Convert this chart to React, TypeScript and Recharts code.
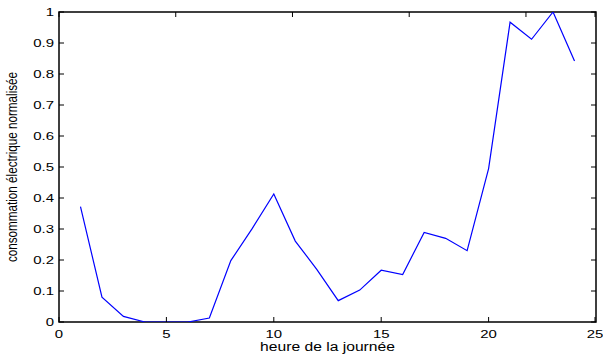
import React from 'react';
import { LineChart, Line, XAxis, YAxis, ReferenceArea } from 'recharts';

// hour of day and normalised consumption
const hours = [1, 2, 3, 4, 5, 6, 7, 8, 9, 10, 11, 12, 13, 14, 15, 16, 17, 18, 19, 20, 21, 22, 23, 24];
const consumption = [
  0.372, 0.08, 0.018, 0, 0, 0, 0.013, 0.198, 0.302, 0.413, 0.261, 0.17,
  0.069, 0.103, 0.167, 0.153, 0.289, 0.27, 0.23, 0.495, 0.967, 0.912, 1.0, 0.842,
];
const xTicks = [0, 5, 10, 15, 20, 25];
const yTicks = [0, 0.1, 0.2, 0.3, 0.4, 0.5, 0.6, 0.7, 0.8, 0.9, 1];

const data = hours.map((h, i) => ({ hour: h, value: consumption[i] }));

const FONT = '"Liberation Sans", Arial, Helvetica, sans-serif';
const TICK = 5; // inward tick length, matlab style

// the original figure is stretched horizontally, so the text is too
const BottomTick: React.FC<any> = ({ x, y, payload }) => (
  <g transform={`translate(${x},${y})`}>
    <line x1={0} y1={0} x2={0} y2={-TICK} stroke="#000" strokeWidth={1} />
    <text transform="translate(0,15.5) scale(1.3,1)" textAnchor="middle" fontSize={11.5} fontFamily={FONT} fill="#000">
      {payload.value}
    </text>
  </g>
);

const LeftTick: React.FC<any> = ({ x, y, payload }) => (
  <g transform={`translate(${x},${y})`}>
    <line x1={0} y1={0} x2={TICK} y2={0} stroke="#000" strokeWidth={1} />
    <text transform="translate(-5,0) scale(1.3,1)" textAnchor="end" dy="0.36em" fontSize={11.5} fontFamily={FONT} fill="#000">
      {payload.value}
    </text>
  </g>
);

const TopTick: React.FC<any> = ({ x, y }) => (
  <line x1={x} y1={y} x2={x} y2={y + TICK} stroke="#000" strokeWidth={1} />
);

const RightTick: React.FC<any> = ({ x, y }) => (
  <line x1={x} y1={y} x2={x - TICK} y2={y} stroke="#000" strokeWidth={1} />
);

const XLabel = (props: any) => {
  const vb = props.viewBox || { x: 59, y: 322, width: 537, height: 37 };
  const cx = vb.x + vb.width / 2;
  return (
    <g transform={`translate(${cx},${vb.y + 29})`}>
      <text transform="scale(1.16,1)" textAnchor="middle" fontSize={13.5} fontFamily={FONT} fill="#000">
        heure de la journée
      </text>
    </g>
  );
};

const YLabel = (props: any) => {
  const vb = props.viewBox || { x: 0, y: 12, width: 59, height: 310 };
  const cy = vb.y + vb.height / 2;
  return (
    <text
      transform={`translate(16.5,${cy}) rotate(-90) scale(1,1.3)`}
      textAnchor="middle"
      fontSize={11.7}
      fontFamily={FONT}
      fill="#000"
    >
      consommation électrique normalisée
    </text>
  );
};

export default function App() {
  return (
    <div style={{ position: 'absolute', left: 0, top: 0, background: '#fff' }}>
      <LineChart width={603} height={359} data={data} margin={{ top: 11, right: 6, bottom: 0, left: 0 }}>
        <XAxis
          dataKey="hour"
          type="number"
          domain={[0, 25]}
          ticks={xTicks}
          allowDataOverflow
          height={37}
          axisLine={false}
          tickLine={false}
          tickSize={0}
          tickMargin={0}
          tick={<BottomTick />}
          label={XLabel}
        />
        <XAxis
          xAxisId="top"
          orientation="top"
          type="number"
          domain={[0, 25]}
          ticks={xTicks}
          allowDataOverflow
          height={1}
          axisLine={false}
          tickLine={false}
          tickSize={0}
          tickMargin={0}
          tick={<TopTick />}
        />
        <YAxis
          type="number"
          domain={[0, 1]}
          ticks={yTicks}
          allowDataOverflow
          width={59}
          axisLine={false}
          tickLine={false}
          tickSize={0}
          tickMargin={0}
          tick={<LeftTick />}
          label={YLabel}
        />
        <YAxis
          yAxisId="right"
          orientation="right"
          type="number"
          domain={[0, 1]}
          ticks={yTicks}
          allowDataOverflow
          width={1}
          axisLine={false}
          tickLine={false}
          tickSize={0}
          tickMargin={0}
          tick={<RightTick />}
        />
        <ReferenceArea x1={0} x2={25} y1={0} y2={1} fill="none" fillOpacity={0} stroke="#000" strokeWidth={1.5} />
        <Line
          type="linear"
          dataKey="value"
          stroke="#0000ff"
          strokeWidth={1.2}
          dot={false}
          activeDot={false}
          isAnimationActive={false}
        />
      </LineChart>
    </div>
  );
}
